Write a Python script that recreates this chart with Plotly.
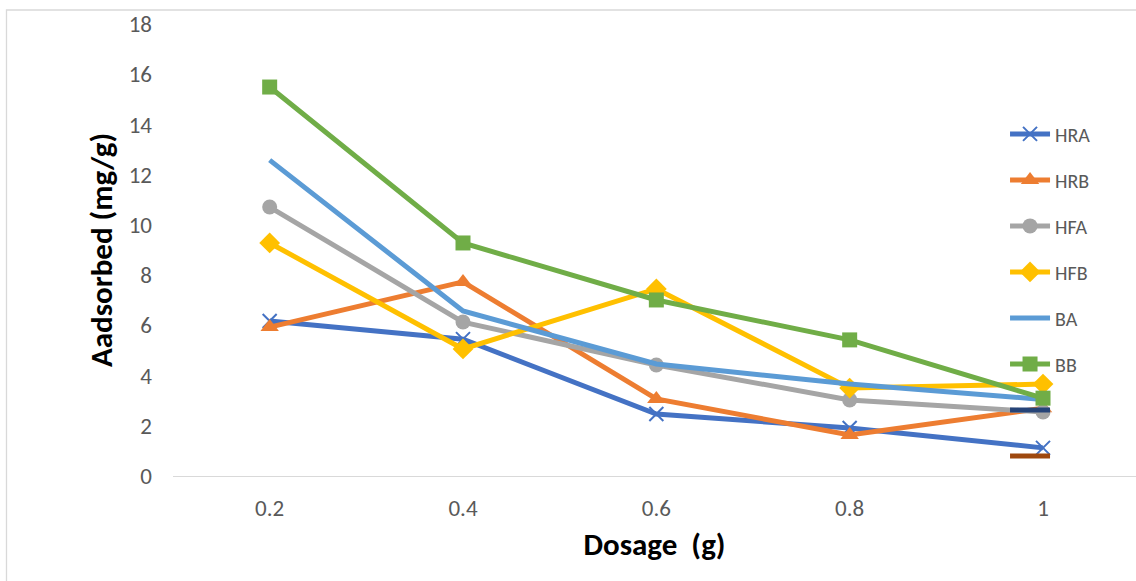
import plotly.graph_objects as go

# Adsorbent dosage (g)
dosage = [0.2, 0.4, 0.6, 0.8, 1.0]
dosage_labels = ["0.2", "0.4", "0.6", "0.8", "1"]

# Amount adsorbed (mg/g) per adsorbent
hra = [6.17, 5.45, 2.47, 1.91, 1.12]
hrb = [5.93, 7.73, 3.07, 1.63, 2.70]
hfa = [10.71, 6.13, 4.42, 3.03, 2.55]
hfb = [9.28, 5.06, 7.45, 3.50, 3.66]
ba = [12.58, 6.57, 4.46, 3.66, 3.05]
bb = [15.49, 9.28, 7.01, 5.42, 3.10]

y_ticks = [0, 2, 4, 6, 8, 10, 12, 14, 16, 18]
y_tick_labels = [str(v) for v in y_ticks]

series = [
    ("HRA", hra, "#4472C4", "x-thin", 14),
    ("HRB", hrb, "#ED7D31", "triangle-up", 16),
    ("HFA", hfa, "#A5A5A5", "circle", 15),
    ("HFB", hfb, "#FFC000", "diamond", 16),
    ("BA", ba, "#5B9BD5", None, 0),
    ("BB", bb, "#70AD47", "square", 15),
]

fig = go.Figure()
for i, (name, vals, color, sym, size) in enumerate(series):
    marker = dict(color=color, size=size)
    if sym == "x-thin":
        marker.update(symbol=sym, line=dict(color=color, width=2))
    elif sym:
        marker.update(symbol=sym)
    fig.add_trace(go.Scatter(
        x=dosage, y=vals, name=name,
        mode="lines+markers" if sym else "lines",
        line=dict(color=color, width=5),
        marker=marker,
        legendgroup=f"g{i}",
    ))

# Two unnamed legend entries
for j, color in enumerate(["#264478", "#9E480E"]):
    fig.add_trace(go.Scatter(
        x=[None], y=[None], name=" ", mode="lines",
        line=dict(color=color, width=5),
        legendgroup=f"e{j}",
    ))

font_family = "Carlito, Calibri, Lato, sans-serif"
tick_font = dict(family=font_family, size=23, color="#595959")

fig.update_layout(
    width=1136, height=581,
    margin=dict(l=173, r=0, t=24, b=105),
    paper_bgcolor="white", plot_bgcolor="white",
    font=dict(family=font_family, color="#595959", size=20),
    showlegend=True,
    legend=dict(
        x=0.864, y=0.80, xanchor="left", yanchor="top",
        font=dict(family=font_family, size=20, color="#595959"),
        tracegroupgap=17, bgcolor="rgba(0,0,0,0)",
        itemwidth=40,
    ),
    xaxis=dict(
        range=[0.1, 1.0962],
        tickmode="array", tickvals=dosage, ticktext=dosage_labels,
        showgrid=False, zeroline=False,
        showline=True, linecolor="#D9D9D9", linewidth=1.3,
        ticks="", ticklabelstandoff=11,
        tickfont=tick_font,
        title=dict(text="<b>Dosage  (g)</b>",
                   font=dict(family=font_family, size=31, color="black"), standoff=12),
    ),
    yaxis=dict(
        range=[0, 18],
        tickmode="array", tickvals=y_ticks, ticktext=y_tick_labels,
        showgrid=False, zeroline=False, showline=False,
        ticks="", ticklabelstandoff=20,
        tickfont=tick_font,
        title=dict(text="<b>Aadsorbed (mg/g)</b>",
                   font=dict(family=font_family, size=31, color="black"), standoff=6),
    ),
)

# Chart frame
fig.add_shape(type="rect", xref="paper", yref="paper",
              x0=-0.1729, x1=1.05, y0=-0.3, y1=1.031,
              line=dict(color="#D9D9D9", width=1.3), layer="below")

fig.write_html("out.html")
